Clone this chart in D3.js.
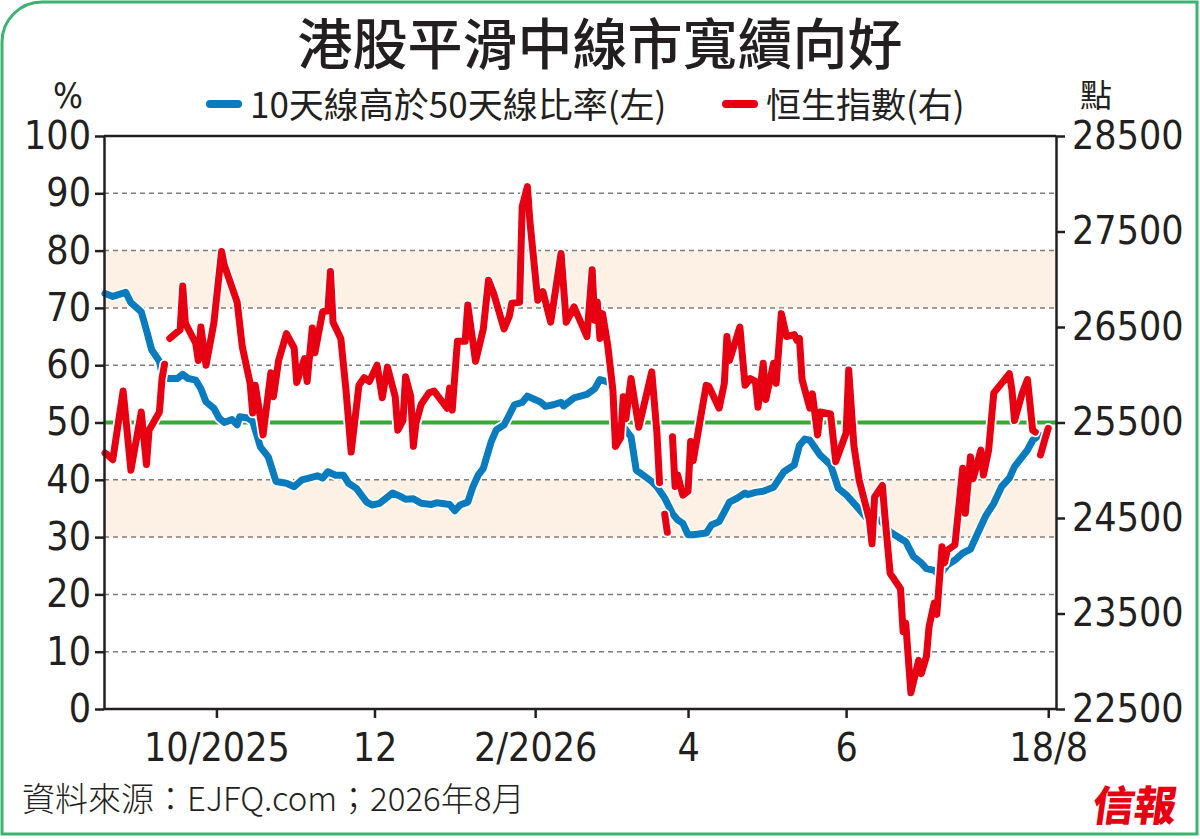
<!DOCTYPE html>
<html>
<head>
<meta charset="utf-8">
<script src="https://cdn.jsdelivr.net/npm/d3@7"></script>
<style>
  body { margin: 0; background: #fff; }
  svg { display: block; }
  .num { font-family: "Liberation Sans Narrow", "DejaVu Sans Condensed", "Arial Narrow", sans-serif; }
  .cjk { font-family: "Noto Sans CJK TC", "Noto Sans CJK SC", sans-serif; }
</style>
</head>
<body>
<svg id="chart" width="1200" height="839"></svg>
<script>
// chart texts
var title = '港股平滑中線市寬續向好';
var seriesNames = ['10天線高於50天線比率(左)', '恒生指數(右)'];
var sourceText = '資料來源：EJFQ.com；2026年8月';

// axis ticks
var leftTicks = [0, 10, 20, 30, 40, 50, 60, 70, 80, 90, 100];
var rightTicks = [22500, 23500, 24500, 25500, 26500, 27500, 28500];
var xTickDates = ['2025-10-01', '2025-12-01', '2026-02-01', '2026-04-01', '2026-06-01', '2026-08-18'];
var xTickLabels = ['10/2025', '12', '2/2026', '4', '6', '18/8'];
var bands = [[30, 40], [70, 80]];
var refLevel = 50;

// 10天線高於50天線比率 (%)
var breadth = [
  ['2025-08-19', 72.5], ['2025-08-22', 72.0], ['2025-08-27', 72.7], ['2025-08-29', 70.9],
  ['2025-09-02', 69.3], ['2025-09-04', 66.1], ['2025-09-06', 62.7], ['2025-09-09', 60.7],
  ['2025-09-10', 58.5], ['2025-09-12', 57.7], ['2025-09-16', 57.7], ['2025-09-18', 58.4],
  ['2025-09-20', 57.7], ['2025-09-23', 57.4], ['2025-09-25', 55.9], ['2025-09-27', 53.6],
  ['2025-09-30', 52.5], ['2025-10-02', 50.8], ['2025-10-04', 50.0], ['2025-10-07', 50.5],
  ['2025-10-09', 49.6], ['2025-10-10', 51.0], ['2025-10-13', 50.8], ['2025-10-15', 50.2],
  ['2025-10-18', 45.7], ['2025-10-21', 44.0], ['2025-10-24', 39.7], ['2025-10-28', 39.4],
  ['2025-10-31', 38.8], ['2025-11-03', 40.0], ['2025-11-09', 40.7], ['2025-11-11', 40.3],
  ['2025-11-13', 41.4], ['2025-11-16', 40.8], ['2025-11-19', 40.8], ['2025-11-21', 39.4],
  ['2025-11-24', 38.5], ['2025-11-28', 36.1], ['2025-11-30', 35.6], ['2025-12-03', 35.9],
  ['2025-12-08', 37.7], ['2025-12-11', 37.1], ['2025-12-13', 36.6], ['2025-12-16', 36.7],
  ['2025-12-19', 35.9], ['2025-12-23', 35.7], ['2025-12-25', 36.0], ['2025-12-30', 35.7],
  ['2026-01-01', 34.6], ['2026-01-03', 35.6], ['2026-01-06', 36.1], ['2026-01-08', 38.8],
  ['2026-01-10', 40.8], ['2026-01-12', 42.0], ['2026-01-15', 46.6], ['2026-01-17', 48.7],
  ['2026-01-20', 49.6], ['2026-01-22', 51.3], ['2026-01-24', 53.1], ['2026-01-27', 53.5],
  ['2026-01-29', 54.6], ['2026-01-31', 54.2], ['2026-02-03', 53.6], ['2026-02-05', 52.8],
  ['2026-02-08', 53.1], ['2026-02-11', 53.5], ['2026-02-12', 52.9], ['2026-02-16', 54.3],
  ['2026-02-21', 54.9], ['2026-02-24', 55.9], ['2026-02-26', 57.5], ['2026-03-01', 57.1],
  ['2026-03-03', 56.3], ['2026-03-05', 52.2], ['2026-03-07', 49.3], ['2026-03-10', 47.5],
  ['2026-03-12', 41.7], ['2026-03-15', 40.7], ['2026-03-18', 39.7], ['2026-03-20', 38.8],
  ['2026-03-23', 36.8], ['2026-03-26', 34.1], ['2026-03-28', 33.0], ['2026-03-30', 32.4],
  ['2026-04-01', 30.4], ['2026-04-03', 30.4], ['2026-04-08', 30.7], ['2026-04-10', 32.1],
  ['2026-04-13', 32.7], ['2026-04-17', 36.1], ['2026-04-20', 36.8], ['2026-04-23', 37.7],
  ['2026-04-24', 37.4], ['2026-04-27', 37.8], ['2026-04-30', 38.0], ['2026-05-04', 38.7],
  ['2026-05-08', 41.4], ['2026-05-12', 42.6], ['2026-05-14', 46.0], ['2026-05-16', 47.1],
  ['2026-05-18', 46.9], ['2026-05-22', 44.3], ['2026-05-26', 42.6], ['2026-05-29', 38.5],
  ['2026-06-01', 37.4], ['2026-06-05', 35.4], ['2026-06-09', 33.3], ['2026-06-14', 33.0],
  ['2026-06-18', 30.9], ['2026-06-24', 29.2], ['2026-06-27', 26.6], ['2026-06-30', 25.5],
  ['2026-07-02', 24.5], ['2026-07-05', 24.2], ['2026-07-07', 23.3], ['2026-07-10', 25.1],
  ['2026-07-13', 26.0], ['2026-07-16', 27.2], ['2026-07-19', 27.9], ['2026-07-22', 30.9],
  ['2026-07-25', 33.8], ['2026-07-28', 35.9], ['2026-07-31', 38.8], ['2026-08-03', 40.3],
  ['2026-08-05', 42.3], ['2026-08-10', 45.2], ['2026-08-12', 46.9], ['2026-08-14', 47.6],
  ['2026-08-16', 47.8], ['2026-08-18', 48.3]
];

// 恒生指數 (點), null = no value
var hsi = [
  ['2025-08-19', 25180], ['2025-08-20', 25160], ['2025-08-22', 25110], ['2025-08-26', 25830],
  ['2025-08-29', 25000], ['2025-09-02', 25610], ['2025-09-04', 25060], ['2025-09-05', 25420],
  ['2025-09-09', 25610], ['2025-09-10', 25960], ['2025-09-11', 26110], ['2025-09-12', null],
  ['2025-09-13', 26380], ['2025-09-16', 26450], ['2025-09-17', 26470], ['2025-09-18', 26930],
  ['2025-09-19', 26540], ['2025-09-23', 26330], ['2025-09-24', 26150], ['2025-09-25', 26500],
  ['2025-09-27', 26100], ['2025-09-30', 26540], ['2025-10-03', 27290], ['2025-10-04', 27150],
  ['2025-10-09', 26760], ['2025-10-11', 26290], ['2025-10-14', 25910], ['2025-10-15', 25600],
  ['2025-10-16', 25890], ['2025-10-19', 25370], ['2025-10-22', 26020], ['2025-10-23', 25770],
  ['2025-10-25', 26150], ['2025-10-28', 26430], ['2025-10-30', 26330], ['2025-10-31', 26280],
  ['2025-11-01', 25920], ['2025-11-04', 26170], ['2025-11-05', 25930], ['2025-11-07', 26490],
  ['2025-11-08', 26230], ['2025-11-11', 26660], ['2025-11-13', 26670], ['2025-11-14', 27080],
  ['2025-11-15', 26550], ['2025-11-18', 26380], ['2025-11-20', 25840], ['2025-11-22', 25190],
  ['2025-11-25', 25890], ['2025-11-27', 25970], ['2025-11-29', 25930], ['2025-12-02', 26100],
  ['2025-12-04', 25760], ['2025-12-06', 26080], ['2025-12-09', 25770], ['2025-12-10', 25420],
  ['2025-12-12', 25520], ['2025-12-13', 25980], ['2025-12-15', 25770], ['2025-12-16', 25250],
  ['2025-12-17', 25490], ['2025-12-19', 25690], ['2025-12-22', 25810], ['2025-12-24', 25830],
  ['2025-12-29', 25650], ['2025-12-30', 25860], ['2025-12-31', 25630], ['2026-01-02', 26350],
  ['2026-01-05', 26350], ['2026-01-06', 26730], ['2026-01-09', 26140], ['2026-01-12', 26480],
  ['2026-01-14', 26990], ['2026-01-16', 26850], ['2026-01-20', 26480], ['2026-01-22', 26610],
  ['2026-01-23', 26750], ['2026-01-26', 26760], ['2026-01-27', 27760], ['2026-01-29', 27970],
  ['2026-01-30', 27600], ['2026-02-02', 26780], ['2026-02-04', 26870], ['2026-02-07', 26550],
  ['2026-02-11', 27270], ['2026-02-13', 26550], ['2026-02-16', 26710], ['2026-02-21', 26400],
  ['2026-02-23', 27100], ['2026-02-24', 26570], ['2026-02-25', 26760], ['2026-02-26', 26380],
  ['2026-02-27', 26640], ['2026-03-01', 26310], ['2026-03-03', 25840], ['2026-03-04', 25250],
  ['2026-03-06', 25340], ['2026-03-07', 25770], ['2026-03-08', 25540], ['2026-03-10', 25960],
  ['2026-03-13', 25450], ['2026-03-18', 26030], ['2026-03-20', 25390], ['2026-03-21', 24870],
  ['2026-03-22', null], ['2026-03-23', 24540], ['2026-03-24', 24350], ['2026-03-25', null],
  ['2026-03-26', 25350], ['2026-03-27', 24830], ['2026-03-28', 24950], ['2026-03-30', 24740],
  ['2026-04-01', 24780], ['2026-04-02', 25300], ['2026-04-03', 25100], ['2026-04-08', 25890],
  ['2026-04-09', 25880], ['2026-04-13', 25650], ['2026-04-15', 25910], ['2026-04-16', 26400],
  ['2026-04-17', 26150], ['2026-04-21', 26500], ['2026-04-23', 25890], ['2026-04-25', 25960],
  ['2026-04-27', 25930], ['2026-04-28', 25660], ['2026-04-30', 26120], ['2026-05-01', 25740],
  ['2026-05-04', 26120], ['2026-05-05', 25910], ['2026-05-07', 26640], ['2026-05-09', 26400],
  ['2026-05-12', 26420], ['2026-05-13', 26360], ['2026-05-14', 26380], ['2026-05-15', 25950],
  ['2026-05-18', 25650], ['2026-05-19', 25800], ['2026-05-21', 25370], ['2026-05-22', 25610],
  ['2026-05-26', 25590], ['2026-05-28', 25090], ['2026-06-01', 25390], ['2026-06-02', 26050],
  ['2026-06-04', 25260], ['2026-06-06', 24900], ['2026-06-10', 24480], ['2026-06-11', 24230],
  ['2026-06-12', 24720], ['2026-06-15', 24840], ['2026-06-16', 24510], ['2026-06-18', 23920],
  ['2026-06-22', 23760], ['2026-06-23', 23310], ['2026-06-24', 23400], ['2026-06-26', 22670],
  ['2026-06-29', 23010], ['2026-06-30', 22870], ['2026-07-02', 23050], ['2026-07-03', 23360],
  ['2026-07-05', 23610], ['2026-07-06', 23490], ['2026-07-08', 24200], ['2026-07-09', 24030],
  ['2026-07-10', 24160], ['2026-07-13', 24220], ['2026-07-16', 25020], ['2026-07-17', 24550],
  ['2026-07-19', 25140], ['2026-07-20', 24910], ['2026-07-23', 25210], ['2026-07-24', 24950],
  ['2026-07-26', 25210], ['2026-07-28', 25810], ['2026-07-31', 25910], ['2026-08-03', 26010],
  ['2026-08-04', 25840], ['2026-08-05', 25520], ['2026-08-08', 25810], ['2026-08-10', 25950],
  ['2026-08-12', 25420], ['2026-08-13', 25400], ['2026-08-14', null], ['2026-08-15', 25160],
  ['2026-08-17', 25350], ['2026-08-18', 25440]
];

var blue = '#0a7bbd';
var red = '#e60012';
var ink = '#231f20';

function init() {
    'use strict';
    var parse = d3.timeParse('%Y-%m-%d');
    var svg = d3.select('#chart');
    var left = 104, right = 1056, top = 136, bottom = 709;

    var x = d3.scaleTime()
        .domain([parse('2025-08-19'), parse('2026-08-21')])
        .range([105, right]);
    var yL = d3.scaleLinear().domain([0, 100]).range([bottom, top]);
    var yR = d3.scaleLinear().domain([22500, 28500]).range([bottom, top]);

    // frame, only the top-left corner is rounded
    svg.append('path')
        .attr('d', 'M2,834 L2,42 A40,40 0 0 1 42,2 L1197,2 L1197,834 Z')
        .attr('fill', 'none')
        .attr('stroke', '#3cb371')
        .attr('stroke-width', 3);

    svg.append('text').attr('class', 'cjk')
        .attr('x', 600).attr('y', 64)
        .attr('text-anchor', 'middle')
        .attr('font-size', 55).attr('font-weight', 500)
        .attr('fill', ink)
        .text(title);

    // shaded bands
    svg.selectAll('rect.band')
        .data(bands)
        .enter()
        .append('rect')
        .attr('class', 'band')
        .attr('x', left)
        .attr('width', right - left)
        .attr('y', function (d) { return yL(d[1]); })
        .attr('height', function (d) { return yL(d[0]) - yL(d[1]); })
        .attr('fill', '#fdf0e4');

    // dashed grid
    svg.selectAll('line.grid')
        .data(leftTicks.filter(function (v) { return v > 0 && v < 100 && v !== refLevel; }))
        .enter()
        .append('line')
        .attr('class', 'grid')
        .attr('x1', left).attr('x2', right)
        .attr('y1', function (d) { return yL(d); })
        .attr('y2', function (d) { return yL(d); })
        .attr('stroke', '#7d7d7d')
        .attr('stroke-width', 1.5)
        .attr('stroke-dasharray', '5,4');

    svg.append('line')
        .attr('x1', left).attr('x2', right)
        .attr('y1', yL(refLevel)).attr('y2', yL(refLevel))
        .attr('stroke', '#37a935')
        .attr('stroke-width', 4);

    function drawSeries(data, yScale, color) {
        var line = d3.line()
            .defined(function (d) { return d[1] !== null; })
            .x(function (d) { return x(parse(d[0])); })
            .y(function (d) { return yScale(d[1]); });
        var g = svg.append('g')
            .attr('fill', 'none')
            .attr('stroke-linejoin', 'round')
            .attr('stroke-linecap', 'round');
        g.append('path').attr('d', line(data)).attr('stroke', '#fff').attr('stroke-width', 10.5);
        g.append('path').attr('d', line(data)).attr('stroke', color).attr('stroke-width', 7);
    }
    drawSeries(breadth, yL, blue);
    drawSeries(hsi, yR, red);

    // axes
    svg.append('line')
        .attr('x1', left).attr('x2', right)
        .attr('y1', top).attr('y2', top)
        .attr('stroke', ink).attr('stroke-width', 2.5);

    var axL = svg.append('g')
        .attr('class', 'num')
        .attr('transform', 'translate(' + left + ',0)')
        .call(d3.axisLeft(yL).tickValues(leftTicks).tickSize(9).tickSizeOuter(0).tickPadding(4));
    var axR = svg.append('g')
        .attr('class', 'num')
        .attr('transform', 'translate(' + right + ',0)')
        .call(d3.axisRight(yR).tickValues(rightTicks).tickSize(9).tickSizeOuter(0).tickPadding(7)
            .tickFormat(d3.format('d')));
    var axB = svg.append('g')
        .attr('class', 'num')
        .attr('transform', 'translate(0,' + bottom + ')')
        .call(d3.axisBottom(x).tickValues(xTickDates.map(parse)).tickSize(9).tickSizeOuter(0).tickPadding(15)
            .tickFormat(function (d, i) { return xTickLabels[i]; }));
    [axL, axR, axB].forEach(function (ax) {
        ax.selectAll('path.domain').attr('stroke', ink).attr('stroke-width', 2.5);
        ax.selectAll('.tick line').attr('stroke', ink).attr('stroke-width', 2.5);
        ax.selectAll('.tick text').attr('fill', ink).attr('font-size', 39)
            .attr('font-family', '"Liberation Sans Narrow", "DejaVu Sans Condensed", "Arial Narrow", sans-serif');
    });
    axB.select('path.domain').attr('d', 'M' + left + ',0H' + right);

    // unit labels
    svg.append('text').attr('class', 'num')
        .attr('x', 68).attr('y', 108).attr('text-anchor', 'middle')
        .attr('font-size', 35).attr('fill', ink).text('%');
    svg.append('text').attr('class', 'cjk')
        .attr('x', 1096).attr('y', 107).attr('text-anchor', 'middle')
        .attr('font-size', 32).attr('fill', ink).text('點');

    // legend
    var legend = [
        { name: seriesNames[0], color: blue, x: 207 },
        { name: seriesNames[1], color: red, x: 723 }
    ];
    var lg = svg.selectAll('g.legend')
        .data(legend)
        .enter()
        .append('g')
        .attr('class', 'legend')
        .attr('transform', function (d) { return 'translate(' + d.x + ',0)'; });
    lg.append('line')
        .attr('x1', 3).attr('x2', 31).attr('y1', 104).attr('y2', 104)
        .attr('stroke', function (d) { return d.color; })
        .attr('stroke-width', 8).attr('stroke-linecap', 'round');
    lg.append('text').attr('class', 'cjk')
        .attr('x', 43).attr('y', 118)
        .attr('font-size', 35).attr('fill', ink)
        .text(function (d) { return d.name; });

    // source and logo
    svg.append('text').attr('class', 'cjk')
        .attr('x', 22).attr('y', 811)
        .attr('font-size', 33).attr('font-weight', 300).attr('fill', ink)
        .text(sourceText);
    svg.append('text').attr('class', 'cjk')
        .attr('x', 1134).attr('y', 821).attr('text-anchor', 'middle')
        .attr('font-size', 42).attr('font-weight', 900).attr('fill', red)
        .attr('transform', 'skewX(-8) translate(114,0)')
        .text('信報');
}

window.onload = init;
</script>
</body>
</html>
